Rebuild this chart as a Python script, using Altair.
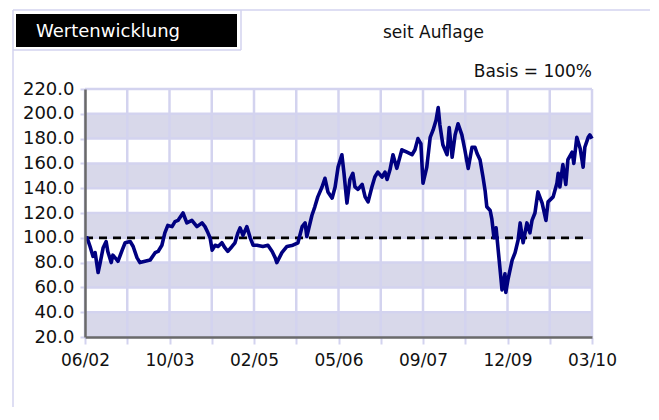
import altair as alt
import pandas as pd

# ---- data ----
t_pos = [0.00, 0.05, 0.12, 0.19, 0.24, 0.31, 0.36, 0.43, 0.50, 0.54, 0.62, 0.66, 0.76, 0.78, 0.88, 0.95,
         1.07, 1.14, 1.23, 1.30, 1.42, 1.54, 1.66, 1.73, 1.82, 1.89, 1.96, 2.06, 2.13, 2.20, 2.32, 2.41,
         2.53, 2.65, 2.77, 2.84, 2.91, 2.96, 3.01, 3.08, 3.15, 3.24, 3.31, 3.38, 3.48, 3.55, 3.62, 3.67,
         3.74, 3.83, 3.91, 3.98, 4.07, 4.21, 4.33, 4.43, 4.50, 4.54, 4.66, 4.78, 4.92, 5.04, 5.14, 5.21,
         5.25, 5.37, 5.44, 5.51, 5.61, 5.68, 5.75, 5.85, 5.92, 5.99, 6.08, 6.13, 6.20, 6.27, 6.34, 6.39,
         6.46, 6.56, 6.63, 6.70, 6.79, 6.86, 6.93, 7.03, 7.10, 7.15, 7.22, 7.29, 7.38, 7.50, 7.62, 7.74,
         7.81, 7.88, 7.95, 8.00, 8.09, 8.17, 8.24, 8.31, 8.36, 8.40, 8.47, 8.57, 8.62, 8.69, 8.76, 8.83,
         8.92, 8.99, 9.07, 9.16, 9.23, 9.28, 9.35, 9.42, 9.47, 9.51, 9.59, 9.63, 9.68, 9.73, 9.78, 9.82,
         9.87, 9.94, 9.96, 10.01, 10.11, 10.18, 10.25, 10.30, 10.37, 10.46, 10.53, 10.58, 10.65, 10.72,
         10.82, 10.91, 10.96, 11.08, 11.17, 11.20, 11.24, 11.31, 11.38, 11.43, 11.53, 11.57, 11.64, 11.72,
         11.79, 11.83, 11.91, 11.95, 12.00]
values = [100, 100, 93, 85, 88, 72, 80, 92, 97, 89, 80, 86, 82, 81, 90, 96,
          97, 93, 84, 80, 81, 82, 88, 89, 94, 104, 110, 109, 113, 114, 120, 112,
          114, 109, 112, 109, 104, 100, 90, 94, 93, 96, 92, 89, 93, 96, 104, 108,
          102, 109, 100, 94, 94, 93, 94, 89, 84, 80, 88, 93, 94, 96, 109, 112,
          101, 118, 125, 133, 141, 148, 137, 132, 141, 157, 167, 152, 128, 147, 152, 141,
          139, 143, 133, 129, 141, 149, 153, 149, 153, 147, 155, 167, 156, 171, 169, 167,
          171, 180, 176, 144, 157, 181, 187, 195, 205, 191, 175, 167, 189, 165, 183, 192,
          183, 171, 156, 173, 173, 168, 163, 149, 138, 125, 122, 115, 100, 108, 90, 76,
          58, 71, 56, 66, 82, 88, 98, 112, 96, 112, 104, 114, 120, 137,
          128, 114, 129, 133, 144, 152, 141, 159, 143, 163, 169, 160, 181, 172,
          157, 173, 181, 183, 180]

x_ticks = list(range(13))
x_labels = ["06/02", "10/03", "02/05", "05/06", "09/07", "12/09", "03/10"]
y_ticks = [20, 40, 60, 80, 100, 120, 140, 160, 180, 200, 220]
band_lo = [20, 60, 100, 140, 180]
band_hi = [40, 80, 120, 160, 200]
basis = 100

title_text = "Wertenwicklung"
subtitle_text = "seit Auflage"
basis_text = "Basis = 100%"

# ---- styling ----
LAV = "#d3d3ef"
BAND = "#d8d8ea"
NAVY = "#000080"
FONT = "DejaVu Sans"

line_df = pd.DataFrame({"t": t_pos, "v": values})
band_df = pd.DataFrame({"lo": band_lo, "hi": band_hi})
vgrid_df = pd.DataFrame({"t": x_ticks})
hgrid_df = pd.DataFrame({"v": y_ticks})
one = pd.DataFrame({"a": [0]})

xs = alt.Scale(domain=[0, 12], nice=False, zero=False)
ys = alt.Scale(domain=[20, 220], nice=False, zero=False)

label_expr = "[" + ",".join("'%s'" % s for s in x_labels) + "]"
x_axis = alt.Axis(values=x_ticks, title=None, grid=False,
                  labelExpr="datum.value % 2 == 0 ? " + label_expr + "[datum.value / 2] : ''",
                  labelFont=FONT, labelFontSize=17, labelColor="#111",
                  domainColor="#6a6a6a", domainWidth=2.5,
                  tickColor=LAV, tickWidth=2, tickSize=7, labelPadding=8,
                  labelFlush=False, labelOverlap=False, zindex=1)
y_axis = alt.Axis(values=y_ticks, title=None, grid=False, format=".1f",
                  labelFont=FONT, labelFontSize=18, labelColor="#111",
                  domainColor="#6a6a6a", domainWidth=2.5,
                  tickColor=LAV, tickWidth=2, tickSize=5, labelPadding=6,
                  labelOverlap=False, zindex=1)

bands = alt.Chart(band_df).mark_rect(color=BAND).encode(
    y=alt.Y("lo:Q", scale=ys, axis=y_axis), y2="hi:Q",
    x=alt.value(0), x2=alt.value("width"))

vgrid = alt.Chart(vgrid_df).mark_rule(color=LAV, strokeWidth=2.5).encode(
    x=alt.X("t:Q", scale=xs, axis=x_axis), y=alt.value(0), y2=alt.value("height"))

hgrid = alt.Chart(hgrid_df).mark_rule(color=LAV, strokeWidth=2.5).encode(
    y=alt.Y("v:Q", scale=ys, axis=y_axis), x=alt.value(0), x2=alt.value("width"))

dash = alt.Chart(one).mark_rule(color="black", strokeWidth=2.8, strokeDash=[8, 6]).encode(
    y=alt.datum(basis, scale=ys, axis=y_axis), x=alt.value(0), x2=alt.value(499))

line = alt.Chart(line_df).mark_line(color=NAVY, strokeWidth=3.6, strokeJoin="round").encode(
    x=alt.X("t:Q", scale=xs, axis=x_axis), y=alt.Y("v:Q", scale=ys, axis=y_axis))

# decorations around the plot (frame, title box, texts)
frame_top = alt.Chart(one).mark_rule(color=LAV, strokeWidth=1.5).encode(
    x=alt.value(-72), x2=alt.value(566), y=alt.value(-79))
frame_left = alt.Chart(one).mark_rule(color=LAV, strokeWidth=1.5).encode(
    x=alt.value(-72), y=alt.value(-79), y2=alt.value(318))
box_right = alt.Chart(one).mark_rule(color=LAV, strokeWidth=1.5).encode(
    x=alt.value(156), y=alt.value(-79), y2=alt.value(-39))
box_bottom = alt.Chart(one).mark_rule(color=LAV, strokeWidth=1.5).encode(
    x=alt.value(-72), x2=alt.value(156), y=alt.value(-39))
title_box = alt.Chart(one).mark_rect(color="black").encode(
    x=alt.value(-69), x2=alt.value(152), y=alt.value(-75), y2=alt.value(-42))
title = alt.Chart(one).mark_text(text=title_text, font=FONT, fontSize=18, color="white",
                                 align="left", baseline="alphabetic").encode(
    x=alt.value(-49), y=alt.value(-52))
subtitle = alt.Chart(one).mark_text(text=subtitle_text, font=FONT, fontSize=17, color="#111",
                                    align="left", baseline="alphabetic").encode(
    x=alt.value(298), y=alt.value(-51))
basis_lbl = alt.Chart(one).mark_text(text=basis_text, font=FONT, fontSize=17, color="#111",
                                     align="right", baseline="alphabetic").encode(
    x=alt.value(507), y=alt.value(-12))

chart = alt.layer(
    bands, vgrid, hgrid, dash, line,
    frame_top, frame_left, box_right, box_bottom, title_box, title, subtitle, basis_lbl
).properties(
    width=507, height=248,
    autosize=alt.AutoSizeParams(type="none"),
    padding={"left": 77, "top": 81, "right": 58, "bottom": 71},
    background="white",
).configure_view(stroke=None).configure_axis(labelOverlap=False)

chart.save("out.html", embed_options={"renderer": "svg", "actions": False})
